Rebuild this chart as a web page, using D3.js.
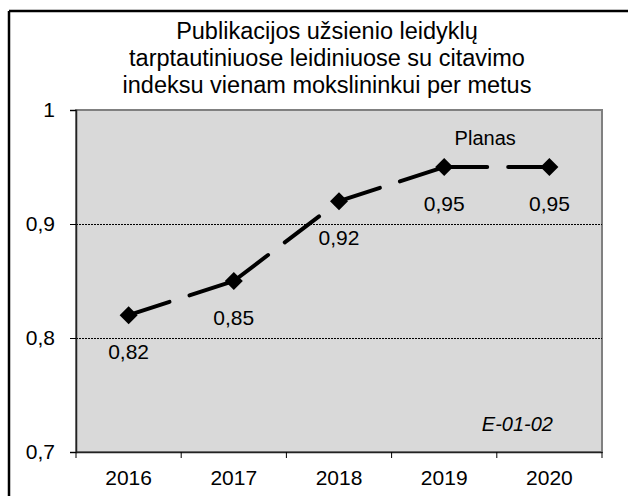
<!DOCTYPE html>
<html>
<head>
<meta charset="utf-8">
<script src="https://cdn.jsdelivr.net/npm/d3@7"></script>
<style>
  body { margin: 0; background: #fff; }
  svg { display: block; font-family: "Liberation Sans", Arial, sans-serif; }
</style>
</head>
<body>
<div id="chart"></div>
<script>
"use strict";

var years = ["2016", "2017", "2018", "2019", "2020"];
var values = [0.82, 0.85, 0.92, 0.95, 0.95];
var yTicks = [0.7, 0.8, 0.9, 1];
var gridTicks = [0.8, 0.9];
var titleLines = [
  "Publikacijos užsienio leidyklų",
  "tarptautiniuose leidiniuose su citavimo",
  "indeksu vienam mokslininkui per metus"
];
var planLabel = "Planas";
var codeLabel = "E-01-02";

var w = 628,
  h = 496,
  plotLeft = 76,
  plotRight = 602,
  plotTop = 110,
  plotBottom = 452;

var svg = d3
  .select("#chart")
  .append("svg")
  .attr("width", w)
  .attr("height", h);

var x = d3.scaleBand().domain(years).range([plotLeft, plotRight]);
var y = d3.scaleLinear().domain([0.7, 1]).range([plotBottom, plotTop]);

function fmt(d) {
  return d === 1 ? "1" : d.toFixed(2).replace(/0$/, "").replace(".", ",");
}

//outer frame (left and top only are visible)
svg.append("line")
  .attr("x1", 9).attr("y1", 11).attr("x2", 9).attr("y2", h)
  .attr("stroke", "#000").attr("stroke-width", 2.5);
svg.append("line")
  .attr("x1", 9).attr("y1", 11).attr("x2", w).attr("y2", 11)
  .attr("stroke", "#000").attr("stroke-width", 2.5);

//title
svg.append("g")
  .selectAll("text")
  .data(titleLines)
  .join("text")
  .attr("x", 327)
  .attr("y", function(d, i) { return 39 + i * 27; })
  .attr("text-anchor", "middle")
  .attr("font-size", 23.5)
  .attr("fill", "#000")
  .text(function(d) { return d; });

//plot area
svg.append("rect")
  .attr("x", plotLeft).attr("y", plotTop)
  .attr("width", plotRight - plotLeft).attr("height", plotBottom - plotTop)
  .attr("fill", "#d9d9d9")
  .attr("stroke", "#808080")
  .attr("stroke-width", 2);

//gridlines
svg.append("g")
  .selectAll("line")
  .data(gridTicks)
  .join("line")
  .attr("x1", plotLeft).attr("x2", plotRight)
  .attr("y1", function(d) { return Math.round(y(d)) + 0.5; })
  .attr("y2", function(d) { return Math.round(y(d)) + 0.5; })
  .attr("stroke", "#000")
  .attr("stroke-width", 1)
  .attr("stroke-dasharray", "2,1");

//y axis
var yAxis = svg.append("g")
  .attr("transform", "translate(" + plotLeft + ",0)")
  .call(d3.axisLeft(y).tickValues(yTicks).tickFormat(fmt).tickSize(6).tickPadding(15));
yAxis.select(".domain").attr("stroke", "#222").attr("stroke-width", 1.5);
yAxis.selectAll("text").attr("font-size", 21).attr("fill", "#000")
  .attr("font-family", "Liberation Sans, Arial, sans-serif");
yAxis.selectAll(".tick line").attr("stroke", "#000");

//x axis
var xAxis = svg.append("g")
  .attr("transform", "translate(0," + plotBottom + ")")
  .call(d3.axisBottom(x).tickSize(0).tickPadding(18));
xAxis.select(".domain").attr("stroke", "#222").attr("stroke-width", 1.5);
xAxis.selectAll("text").attr("font-size", 21).attr("fill", "#000")
  .attr("font-family", "Liberation Sans, Arial, sans-serif");
xAxis.selectAll(".bound")
  .data(years.map(function(d) { return x(d); }).concat([plotRight]))
  .join("line")
  .attr("class", "bound")
  .attr("x1", function(d) { return d; }).attr("x2", function(d) { return d; })
  .attr("y1", 0).attr("y2", 6)
  .attr("stroke", "#000");

//series
var pts = years.map(function(d, i) {
  return { year: d, value: values[i] };
});
var line = d3.line()
  .x(function(d) { return x(d.year) + x.bandwidth() / 2; })
  .y(function(d) { return y(d.value); });

svg.append("g")
  .selectAll("path")
  .data(d3.pairs(pts))
  .join("path")
  .attr("d", function(d) { return line(d); })
  .attr("fill", "none")
  .attr("stroke", "#000")
  .attr("stroke-width", 4)
  .attr("stroke-linecap", "round")
  .attr("stroke-dasharray", "43,21");

svg.append("g")
  .selectAll("path")
  .data(pts)
  .join("path")
  .attr("transform", function(d) {
    return "translate(" + (x(d.year) + x.bandwidth() / 2) + "," + y(d.value) + ")";
  })
  .attr("d", "M0,-9L9,0L0,9L-9,0Z")
  .attr("fill", "#000");

//value labels
svg.append("g")
  .selectAll("text")
  .data(pts)
  .join("text")
  .attr("x", function(d) { return x(d.year) + x.bandwidth() / 2; })
  .attr("y", function(d) { return y(d.value) + 44; })
  .attr("text-anchor", "middle")
  .attr("font-size", 21)
  .attr("fill", "#000")
  .text(function(d) { return fmt(d.value); });

//annotations
svg.append("text")
  .attr("x", x("2019") + x.bandwidth() / 2 + 41)
  .attr("y", y(0.95) - 22)
  .attr("text-anchor", "middle")
  .attr("font-size", 20)
  .attr("fill", "#000")
  .text(planLabel);

svg.append("text")
  .attr("x", 553)
  .attr("y", 431)
  .attr("text-anchor", "end")
  .attr("font-size", 20)
  .attr("font-style", "italic")
  .attr("fill", "#000")
  .text(codeLabel);
</script>
</body>
</html>
